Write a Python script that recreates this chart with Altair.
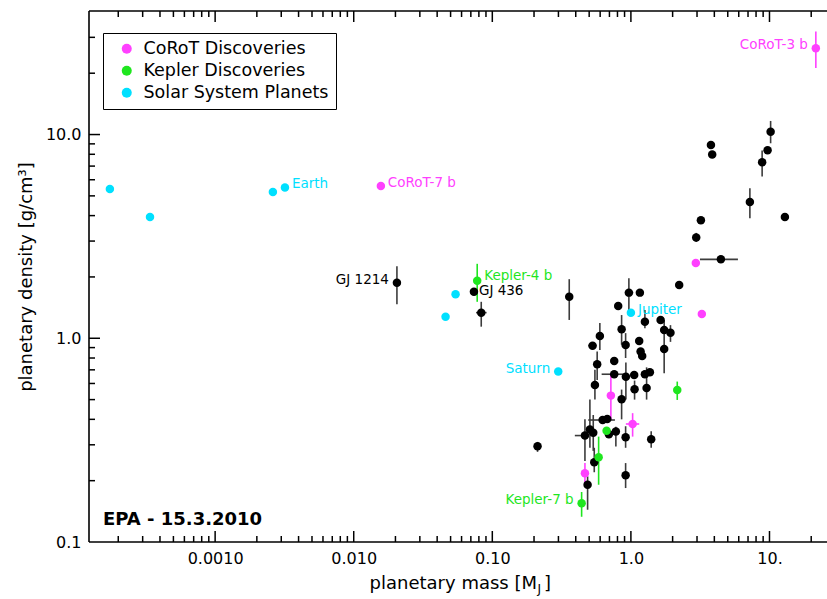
import altair as alt
import pandas as pd
import numpy as np

# plot area (pixels) and outer padding
W, H = 738, 531
PAD = {"left": 89, "top": 11, "right": 0, "bottom": 57}

FONT = "DejaVu Sans"
MAGENTA, GREEN, CYAN, BLACK, ERRGRAY = "#ff40ff", "#1fe61f", "#00e0ff", "#000000", "#3c3c3c"

# ---------------- transiting planets (black) ----------------
other_name = ["GJ 1214", "GJ 436"] + [""] * 52
other_mass = [0.0205, 0.0737, 0.0832, 0.212, 0.359, 0.967, 1.161, 2.23, 0.810, 1.262,
              1.638, 1.738, 1.93, 0.857, 0.597, 0.529, 0.916, 1.148, 1.175, 1.206,
              1.738, 0.571, 0.758, 0.758, 0.920, 1.056, 1.262, 1.371, 0.550, 1.063,
              1.298, 0.857, 0.675, 0.625, 0.506, 0.535, 0.466, 0.779, 0.694, 0.916,
              1.401, 0.544, 0.916, 0.487, 10.19, 3.78, 3.86, 9.69, 8.85, 7.22,
              12.92, 3.20, 2.96, 4.46]
other_dens = [1.875, 1.69, 1.336, 0.295, 1.60, 1.675, 1.675, 1.827, 1.44, 1.206,
              1.23, 1.098, 1.065, 1.107, 1.026, 0.920, 0.927, 0.970, 0.860, 0.819,
              0.886, 0.745, 0.774, 0.666, 0.648, 0.660, 0.666, 0.681, 0.590, 0.562,
              0.570, 0.502, 0.402, 0.397, 0.357, 0.344, 0.333, 0.349, 0.338, 0.327,
              0.319, 0.246, 0.2125, 0.191, 10.33, 8.89, 7.97, 8.37, 7.31, 4.67,
              3.94, 3.80, 3.12, 2.44]
other_dlo = [1.47, 1.62, 1.14, 0.277, 1.23, 1.377, None, None, None, 1.12,
             None, None, 0.96, 0.93, 0.876, None, 0.80, None, None, None,
             0.673, 0.624, None, None, 0.50, None, None, None, 0.50, 0.50,
             0.50, 0.40, None, None, 0.29, 0.28, 0.25, 0.294, None, 0.29,
             0.29, 0.22, 0.184, 0.144, 9.06, None, None, None, 6.22, 3.88,
             None, None, 2.97, None]
other_dhi = [2.26, 1.76, 1.51, 0.310, 1.95, 1.97, None, None, None, 1.377,
             None, None, 1.16, 1.30, 1.19, None, 1.06, None, None, None,
             1.23, 0.86, None, None, 0.76, None, None, None, 0.70, 0.62,
             0.72, 0.56, None, None, 0.50, 0.42, 0.40, 0.368, None, 0.37,
             0.35, 0.29, 0.244, 0.21, 11.66, None, None, None, 8.36, 5.45,
             None, None, 3.29, None]
other_mlo = {1: 0.0715, 2: 0.0763, 5: 0.905, 15: 0.492, 23: 0.615, 33: 0.492, 36: 0.394, 53: 3.15}
other_mhi = {1: 0.0760, 2: 0.0909, 5: 1.04, 15: 0.566, 23: 0.931, 33: 0.767, 36: 0.482, 53: 5.92}

# ---------------- CoRoT discoveries ----------------
corot_name = ["CoRoT-7 b", "CoRoT-3 b", "", "", "", "", ""]
corot_mass = [0.0157, 21.6, 2.94, 3.25, 0.717, 1.029, 0.466]
corot_dens = [5.59, 26.5, 2.34, 1.316, 0.523, 0.3795, 0.2175]
corot_dlo = [None, 21.2, None, None, 0.397, 0.329, 0.194]
corot_dhi = [None, 32.0, None, None, 0.676, 0.429, 0.244]
corot_mlo = {5: 0.920}
corot_mhi = {5: 1.148}

# ---------------- Kepler discoveries ----------------
kepler_name = ["Kepler-4 b", "", "", "", "Kepler-7 b"]
kepler_mass = [0.0778, 2.16, 0.668, 0.585, 0.441]
kepler_dens = [1.918, 0.557, 0.352, 0.2605, 0.155]
kepler_dlo = [1.51, 0.498, None, 0.191, 0.133]
kepler_dhi = [2.32, 0.613, None, 0.329, 0.176]

# ---------------- Solar System ----------------
solar_name = ["", "", "", "Earth", "", "", "Saturn", "Jupiter"]
solar_mass = [1.74e-4, 3.39e-4, 2.61e-3, 3.19e-3, 0.046, 0.0543, 0.299, 1.0]
solar_dens = [5.41, 3.94, 5.23, 5.50, 1.276, 1.644, 0.686, 1.335]

# label placement: left of the point, right of it, or right and nudged up/down
label_side = {"CoRoT-3 b": "left", "GJ 1214": "left", "Saturn": "left", "Kepler-7 b": "left",
              "Kepler-4 b": "up", "GJ 436": "down"}

GROUPS = ["CoRoT Discoveries", "Kepler Discoveries", "Solar System Planets", "Other"]
COLORS = [MAGENTA, GREEN, CYAN, BLACK]


def build(group, names, mass, dens, dlo=None, dhi=None, mlo=None, mhi=None, ecolor=None):
    rows = []
    for i, (n, m, d) in enumerate(zip(names, mass, dens)):
        lo = dlo[i] if dlo and dlo[i] is not None else d
        hi = dhi[i] if dhi and dhi[i] is not None else d
        ml = (mlo or {}).get(i, m)
        mh = (mhi or {}).get(i, m)
        rows.append(dict(name=n, group=group, mass=m, dens=d, dlo=lo, dhi=hi,
                         mlo=ml, mhi=mh, ecolor=ecolor,
                         tcolor=COLORS[GROUPS.index(group)],
                         side=label_side.get(n, "right")))
    return rows


df = pd.DataFrame(
    build("Other", other_name, other_mass, other_dens, other_dlo, other_dhi, other_mlo, other_mhi, ERRGRAY)
    + build("CoRoT Discoveries", corot_name, corot_mass, corot_dens, corot_dlo, corot_dhi, corot_mlo, corot_mhi, MAGENTA)
    + build("Kepler Discoveries", kepler_name, kepler_mass, kepler_dens, kepler_dlo, kepler_dhi, None, None, GREEN)
    + build("Solar System Planets", solar_name, solar_mass, solar_dens, None, None, None, None, CYAN)
)

XDOM = [1.23e-4, 26.0]
YDOM = [0.1, 40.4]
xscale = alt.Scale(type="log", domain=XDOM, nice=False)
yscale = alt.Scale(type="log", domain=YDOM, nice=False)

xaxis = alt.Axis(values=[0.001, 0.01, 0.1, 1, 10],
                 labelExpr="datum.value < 0.005 ? '0.0010' : datum.value < 0.05 ? '0.010' : datum.value < 0.5 ? '0.10' : datum.value < 5 ? '1.0' : '10.'",
                 ticks=False, domain=False, grid=False, title=None, labelPadding=8)
yaxis = alt.Axis(values=[0.1, 1, 10],
                 labelExpr="datum.value < 0.5 ? '0.1' : datum.value < 5 ? '1.0' : '10.0'",
                 ticks=False, domain=False, grid=False, title="planetary density [g/cm³]",
                 labelPadding=8, titlePadding=10)


def X(f):
    return alt.X(f"{f}:Q", scale=xscale, axis=xaxis)


def Y(f):
    return alt.Y(f"{f}:Q", scale=yscale, axis=yaxis)


base = alt.Chart(df)

err_v = base.mark_rule(strokeWidth=1.6).encode(
    x=X("mass"), y=Y("dlo"), y2="dhi", color=alt.Color("ecolor:N", scale=None))
err_h = base.mark_rule(strokeWidth=1.6).encode(
    x=X("mlo"), x2="mhi", y=Y("dens"), color=alt.Color("ecolor:N", scale=None))

points = base.mark_circle(size=72, opacity=1).encode(
    x=X("mass"), y=Y("dens"),
    color=alt.Color("group:N",
                    scale=alt.Scale(domain=GROUPS, range=COLORS),
                    legend=alt.Legend(title=None, values=GROUPS[:3], orient="none",
                                      legendX=14, legendY=22, direction="vertical",
                                      strokeColor="black", fillColor="white", padding=7,
                                      labelFont=FONT, labelFontSize=17.5, labelColor="black",
                                      labelLimit=0, symbolOffset=8,
                                      symbolType="circle", symbolSize=100, symbolStrokeWidth=0,
                                      labelOffset=8, rowPadding=3, cornerRadius=0)))


def labels(side, align, dx, dy):
    return base.transform_filter(f"datum.name != '' && datum.side == '{side}'").mark_text(
        align=align, baseline="middle", dx=dx, dy=dy, font=FONT, fontSize=13.5).encode(
        x=X("mass"), y=Y("dens"), text="name:N", color=alt.Color("tcolor:N", scale=None))


label_layers = [labels("right", "left", 7, -3), labels("left", "right", -8, -3),
                labels("up", "left", 7, -5), labels("down", "left", 5, -1)]

# inward-pointing log ticks on the bottom, top and left edges
def decade_ticks(lo, hi):
    major, minor = [], []
    for e in range(int(np.floor(np.log10(lo))), int(np.ceil(np.log10(hi))) + 1):
        for k in range(1, 10):
            v = k * 10.0 ** e
            if lo <= v <= hi:
                (major if k == 1 else minor).append(v)
    return major, minor


xmaj, xmin = decade_ticks(*XDOM)
ymaj, ymin = decade_ticks(0.1, 30.0)
ymaj = [v for v in ymaj if v > 0.1]

tick_layers = []
for vals, ln in ((xmaj, 11), (xmin, 6)):
    tdf = alt.Chart(pd.DataFrame({"v": vals}))
    tick_layers.append(tdf.mark_rule(color="black", strokeWidth=1.5).encode(
        x=X("v"), y=alt.value(H), y2=alt.value(H - ln)))
    tick_layers.append(tdf.mark_rule(color="black", strokeWidth=1.5).encode(
        x=X("v"), y=alt.value(0), y2=alt.value(ln)))
for vals, ln in ((ymaj, 11), (ymin, 6)):
    tdf = alt.Chart(pd.DataFrame({"v": vals}))
    tick_layers.append(tdf.mark_rule(color="black", strokeWidth=1.5).encode(
        y=Y("v"), x=alt.value(0), x2=alt.value(ln)))

one = alt.Chart(pd.DataFrame({"k": [0]}))
frame = [
    one.mark_rule(color="black", strokeWidth=1.6).encode(x=alt.value(0), y=alt.value(0), y2=alt.value(H)),
    one.mark_rule(color="black", strokeWidth=1.6).encode(x=alt.value(0), x2=alt.value(W), y=alt.value(0)),
    one.mark_rule(color="black", strokeWidth=1.6).encode(x=alt.value(0), x2=alt.value(W), y=alt.value(H)),
]

stamp = one.mark_text(align="left", baseline="middle", font=FONT, fontSize=18, fontWeight="bold").encode(
    x=alt.value(14), y=alt.value(509), text=alt.value("EPA - 15.3.2010"))

# x-axis title with subscript J
xt1 = one.mark_text(align="right", baseline="middle", font=FONT, fontSize=18).encode(
    x=alt.value(448), y=alt.value(573), text=alt.value("planetary mass [M"))
xt2 = one.mark_text(align="left", baseline="middle", font=FONT, fontSize=12).encode(
    x=alt.value(448.5), y=alt.value(578), text=alt.value("J"))
xt3 = one.mark_text(align="left", baseline="middle", font=FONT, fontSize=18).encode(
    x=alt.value(455), y=alt.value(573), text=alt.value("]"))

chart = alt.layer(
    err_v, err_h, points, *label_layers, *tick_layers, *frame, stamp, xt1, xt2, xt3
).properties(
    width=W, height=H, padding=PAD, autosize=alt.AutoSizeParams(type="none")
).configure_view(stroke=None).configure_axis(
    labelFont=FONT, labelFontSize=16, labelColor="black", titleFont=FONT,
    titleFontSize=18, titleFontWeight="normal", titleColor="black"
)

chart.save("out.html", embed_options={"renderer": "svg", "actions": False})
